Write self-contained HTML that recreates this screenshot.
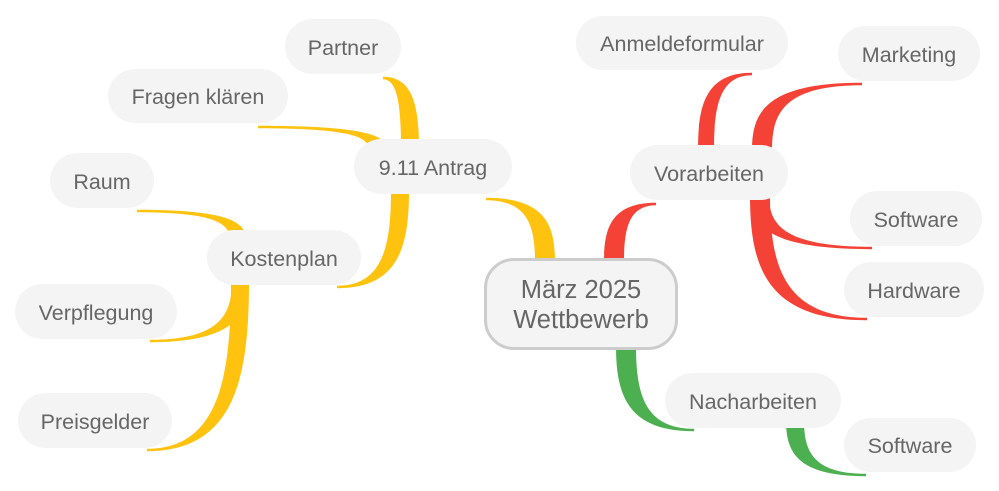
<!DOCTYPE html>
<html><head><meta charset="utf-8"><style>
body{margin:0;width:999px;height:491px;background:#fff;overflow:hidden;position:relative;font-family:"Liberation Sans",sans-serif}
.n{position:absolute;background:#f4f4f4;border-radius:28px;color:#666;font-size:21.5px;display:flex;align-items:center;justify-content:center;white-space:nowrap;box-sizing:border-box;padding-top:3px}
svg{position:absolute;left:0;top:0}
</style></head><body>
<svg id="s" width="999" height="491"></svg>
<div class="n" style="left:285px;top:19px;width:116px;height:55px">Partner</div>
<div class="n" style="left:108px;top:69px;width:180px;height:54px">Fragen klären</div>
<div class="n" style="left:354px;top:139px;width:158px;height:55px">9.11 Antrag</div>
<div class="n" style="left:50px;top:153px;width:104px;height:55px">Raum</div>
<div class="n" style="left:207px;top:230px;width:154px;height:55px">Kostenplan</div>
<div class="n" style="left:15px;top:284px;width:162px;height:55px">Verpflegung</div>
<div class="n" style="left:18px;top:393px;width:154px;height:55px">Preisgelder</div>
<div class="n" style="left:576px;top:16px;width:212px;height:54px">Anmeldeformular</div>
<div class="n" style="left:838px;top:26px;width:142px;height:55px">Marketing</div>
<div class="n" style="left:630px;top:145px;width:158px;height:55px">Vorarbeiten</div>
<div class="n" style="left:850px;top:191px;width:132px;height:55px">Software</div>
<div class="n" style="left:844px;top:262px;width:140px;height:55px">Hardware</div>
<div class="n" style="left:665px;top:373px;width:176px;height:55px">Nacharbeiten</div>
<div class="n" style="left:844px;top:418px;width:132px;height:54px">Software</div>
<div class="n" style="left:484px;top:258px;width:194px;height:92px;border:3px solid #ccc;border-radius:30px;font-size:25.5px;line-height:30px;text-align:center;flex-direction:column;padding-top:2px">März 2025<br>Wettbewerb</div>
<script>
var s=document.getElementById('s'),h='';
function b(px,py,cx,cy,w,c){
var e1=px-w/2,e2=px+w/2,d=cy>py?1:-1,t=1.2;
var inner,outer;
if(cx<px){inner=e1;outer=e2;}else{inner=e2;outer=e1;}
var cyi=cy-d*t,cyo=cy+d*t;
function seg(ex,yy){return [ex, py+(yy-py)*0.55, ex+(cx-ex)*0.12, yy];}
var a=seg(inner,cyi),o=seg(outer,cyo);
h+='<path fill="'+c+'" d="M'+inner+','+py+' C'+a[0]+','+a[1]+' '+a[2]+','+a[3]+' '+cx+','+cyi+' L'+cx+','+cyo+' C'+o[2]+','+o[3]+' '+o[0]+','+o[1]+' '+outer+','+py+' Z"/>';
}
var Y='#ffc20e',R='#f44336',G='#4caf50';
b(545,262,486,199,20,Y);
b(410,150,383,78,18,Y);
b(378,150,258,127,18,Y);
b(400,190,337,287,18,Y);
b(238,240,137,211,16,Y);
b(240,280,150,341,16,Y);
b(240,280,147,450,18,Y);
b(614,262,656,204,20,R);
b(706,150,752,74,16,R);
b(762,150,862,84,20,R);
b(760,195,872,248,18,R);
b(760,195,867,319,20,R);
b(626,345,694,430,20,G);
b(795,420,866,475,18,G);
s.innerHTML=h;
</script>
</body></html>
